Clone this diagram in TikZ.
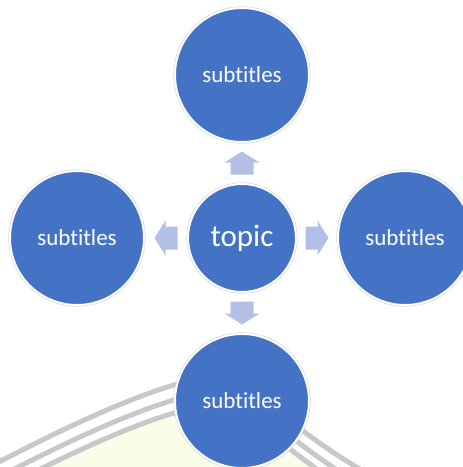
\documentclass[tikz,border=0pt]{standalone}
\usepackage{fontspec}
\setmainfont[Ligatures=NoCommon,RawFeature={-liga;-clig}]{Carlito}
\usetikzlibrary{calc}
\definecolor{circblue}{HTML}{4472C4}
\definecolor{arrowblue}{HTML}{B1C0E4}
\definecolor{stripegray}{HTML}{C8C8C8}
\definecolor{paleyellow}{HTML}{FAFDE8}
\begin{document}
\begin{tikzpicture}[x=1pt,y=-1pt,
  bubble/.style={circle, fill=circblue, draw=white, line width=2pt, minimum size=134pt,
    inner sep=0pt, outer sep=0pt, text=white, font=\fontsize{23}{26}\selectfont},
  hub/.style={bubble, minimum size=108pt, font=\fontsize{31}{34}\selectfont},
  halo/.style={draw=black!15, line width=0.6pt},
  stripe/.style={draw=stripegray, line width=5pt},
  blockarrow/.pic={\fill[arrowblue] (-11.5,-11.5) -- (0.5,-11.5) -- (0.5,-17.5) -- (11.5,0)
     -- (0.5,17.5) -- (0.5,11.5) -- (-11.5,11.5) -- cycle;}
]
\useasboundingbox (0,0) rectangle (463,467);
\clip (0,0) rectangle (463,467);
% background hill
\fill[paleyellow, shift={(0,31)}] (-5,461) .. controls (70,425) and (160,382) .. (215,376)
   .. controls (250,376) and (275,420) .. (365,472) -- (365,480) -- (-5,480) -- cycle;
\foreach \d in {0,15,28}{
  \draw[stripe, shift={(0,\d)}] (-5,464) .. controls (70,425) and (160,382) .. (215,376)
   .. controls (250,376) and (275,420) .. (365,472);
}
% circles
\node[hub] (c) at (242,238) {topic};
\node[bubble] (t) at (242,75) {subtitles};
\node[bubble] (b) at (242,401) {subtitles};
\node[bubble] (l) at (77,238) {subtitles};
\node[bubble] (r) at (405,238) {subtitles};
\foreach \n in {t,b,l,r}{ \draw[halo] (\n) circle (68.3); }
\draw[halo] (c) circle (55.3);
% arrows
\pic[rotate=90] at ($(c.north)!0.5!(t.south)$) {blockarrow};
\pic[rotate=270] at ($(c.south)!0.5!(b.north)$) {blockarrow};
\pic[rotate=180] at ($(c.west)!0.5!(l.east)$) {blockarrow};
\pic at ($(c.east)!0.5!(r.west)$) {blockarrow};
\end{tikzpicture}
\end{document}
